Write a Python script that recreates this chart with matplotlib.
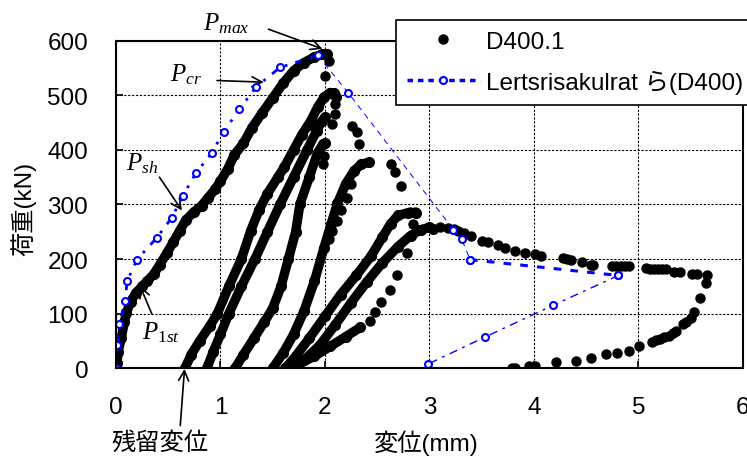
import matplotlib
matplotlib.use("Agg")   # headless
import matplotlib.pyplot as plt
from matplotlib.lines import Line2D

# ── fonts ──────────────────────────────────────────────────────────────────────
plt.rcParams["font.family"] = ["Liberation Sans", "Noto Sans CJK JP"]
plt.rcParams["mathtext.fontset"] = "custom"
plt.rcParams["mathtext.it"] = "Liberation Serif:italic"
plt.rcParams["mathtext.rm"] = "Liberation Serif"

# ── D400.1 : dense strands (loading / reloading branches) ─────────────────────
env_x = [0, 0.01, 0.02, 0.05, 0.08, 0.10, 0.14, 0.19, 0.25, 0.30, 0.36, 0.42,
         0.49, 0.55, 0.61, 0.67, 0.75, 0.82, 0.88, 0.95, 1.00, 1.07, 1.13, 1.22,
         1.30, 1.40, 1.50, 1.60, 1.70, 1.80, 1.90, 1.97, 2.02]
env_y = [0, 10, 30, 55, 85, 102, 122, 138, 150, 160, 172, 190,
         212, 232, 252, 272, 287, 298, 312, 328, 343, 365, 390, 412,
         440, 468, 495, 522, 545, 560, 570, 575, 576]

loop_a_x = [0.66, 0.72, 0.80, 0.90, 0.97, 1.08, 1.20, 1.29, 1.37, 1.45, 1.55,
            1.61, 1.70, 1.78, 1.864, 1.93, 1.99, 2.05, 2.09, 2.11]
loop_a_y = [0, 25, 50, 78, 100, 150, 200, 252, 290, 320, 350,
            368, 400, 428, 453, 478, 496, 505, 504, 497]

loop_b_x = [0.87, 0.93, 1.00, 1.08, 1.20, 1.33, 1.45, 1.57, 1.70, 1.83, 1.92,
            1.97, 2.00]
loop_b_y = [0, 30, 62, 100, 150, 200, 250, 300, 350, 400, 435,
            452, 460]

loop_c_x = [1.14, 1.22, 1.32, 1.42, 1.50, 1.58, 1.65, 1.72, 1.76, 1.85, 1.93,
            1.98, 2.00]
loop_c_y = [0, 25, 55, 85, 110, 150, 200, 250, 300, 350, 395,
            410, 412]

loop_d_x = [1.50, 1.60, 1.70, 1.80, 1.90, 1.99, 2.06, 2.12, 2.20, 2.28, 2.35, 2.42]
loop_d_y = [0, 28, 62, 105, 160, 220, 265, 302, 338, 362, 374, 377]

loop_e_x = [1.62, 1.72, 1.85, 2.00, 2.15, 2.30, 2.44, 2.55, 2.63, 2.70, 2.80, 2.87]
loop_e_y = [0, 22, 55, 95, 135, 170, 205, 240, 265, 280, 285, 284]

loop_f_x = [1.67, 1.80, 1.95, 2.10, 2.25, 2.40, 2.55, 2.70, 2.82, 2.92, 3.00, 3.03]
loop_f_y = [0, 15, 42, 80, 120, 158, 193, 223, 243, 254, 258, 256]

unload_e_x = [2.34, 2.20, 2.05, 1.90, 1.75, 1.65]
unload_e_y = [75, 58, 40, 22, 8, 0]

# ── D400.1 : sparse points (post-peak drops, softening tail) ──────────────────
drop_x = [2.04, 2.00, 1.99, 1.985, 2.10, 2.10, 2.07, 1.895, 2.26, 2.31, 2.33,
          2.25, 2.21, 2.15, 2.12, 2.07, 2.04, 2.63, 2.67, 2.73, 2.81, 2.86,
          2.84, 2.79, 2.69, 2.62, 2.54, 2.48, 2.43]
drop_y = [562, 536, 389, 374, 484, 466, 447, 441, 444, 432, 410,
          337, 311, 289, 270, 252, 237, 374, 359, 333, 286, 286,
          264, 212, 171, 144, 121, 103, 87]

tail_x = [3.10, 3.18, 3.24, 3.27, 3.33, 3.40, 3.50, 3.56, 3.66, 3.72, 3.82,
          3.92, 4.01, 4.07, 4.28, 4.32, 4.36, 4.46, 4.55, 4.57, 4.75, 4.79,
          4.83, 4.87, 4.91, 5.07, 5.11, 5.15, 5.19, 5.23, 5.27, 5.34, 5.40,
          5.51, 5.56, 5.66, 5.65, 5.59, 5.53, 5.50, 5.46, 5.43, 5.36, 5.33,
          5.29, 5.25, 5.21, 5.17, 5.13, 5.01, 4.91, 4.80, 4.69, 4.55, 4.40,
          4.21, 4.01, 3.95, 3.82, 3.79]
tail_y = [258, 257, 255, 252, 248, 243, 234, 231, 226, 220, 215,
          212, 209, 206, 202, 200, 198, 194, 190, 190, 187, 187,
          187, 187, 187, 184, 181, 181, 181, 181, 181, 176, 176,
          173, 173, 170, 157, 128, 103, 93, 85, 81, 69, 65,
          60, 57, 54, 51, 48, 40, 32, 28, 26, 18, 14,
          11, 5, 4, 0, 0]

# ── Lertsrisakulrat ら(D400) ───────────────────────────────────────────────────
ref_up_x = [0, 0.01, 0.03, 0.09, 0.105, 0.20, 0.39, 0.535, 0.64, 0.766, 0.916,
            1.03, 1.18, 1.34, 1.57, 1.93]
ref_up_y = [0, 42, 82, 123, 159, 199, 239, 276, 316, 358, 394,
            433, 474, 515, 551, 573]
ref_soft_x = [1.93, 2.225, 3.23, 3.31, 3.39]
ref_soft_y = [573, 504, 254, 236, 199]
ref_flat_x = [3.39, 4.81]
ref_flat_y = [199, 170]
ref_back_x = [4.81, 4.18, 3.53, 2.99]
ref_back_y = [170, 115, 57, 8]

x_ticks = [0, 1, 2, 3, 4, 5, 6]
y_ticks = [0, 100, 200, 300, 400, 500, 600]

# ── styling ───────────────────────────────────────────────────────────────────
_BLK = "black"
_BLUE = "#0000FF"
_FS = 17.5
_DOT = 6.5

fig = plt.figure(figsize=(7.47, 4.60), dpi=100)
ax = fig.add_axes([0.1553, 0.1972, 0.8390, 0.7122])

dense = [(env_x, env_y), (loop_a_x, loop_a_y), (loop_b_x, loop_b_y),
         (loop_c_x, loop_c_y), (loop_d_x, loop_d_y), (loop_e_x, loop_e_y),
         (loop_f_x, loop_f_y), (unload_e_x, unload_e_y)]
for xs, ys in dense:
    ax.plot(xs, ys, "-o", color=_BLK, lw=6.8, ms=_DOT + 0.5,
            solid_capstyle="round", solid_joinstyle="round", zorder=3)
ax.plot(drop_x, drop_y, "o", color=_BLK, ms=_DOT, zorder=3)
ax.plot(tail_x, tail_y, "o", color=_BLK, ms=_DOT, zorder=3)

# reference curve: different dash per branch, as in the original figure
circ = dict(marker="o", ms=5, mfc="white", mec=_BLUE, mew=1.5, color=_BLUE)
ax.plot(ref_up_x, ref_up_y, lw=2, dashes=(2.5, 3, 1, 3), zorder=4, **circ)
ax.plot(ref_soft_x, ref_soft_y, lw=0.7, dashes=(6, 5), zorder=4, **circ)
ax.plot(ref_flat_x, ref_flat_y, lw=2.2, dashes=(2.5, 3), zorder=4, **circ)
ax.plot(ref_back_x, ref_back_y, lw=1.0, dashes=(6, 4, 2, 4), zorder=4, **circ)

# ── annotations ───────────────────────────────────────────────────────────────
arrow = dict(arrowstyle="->", color=_BLK, lw=1.2, mutation_scale=18,
             shrinkA=0, shrinkB=0)
ann_fs = 18
ax.text(0.836, 621, r"$P_{max}$", fontsize=ann_fs, ha="left", va="baseline",
        clip_on=False)
ax.annotate("", xy=(1.976, 585), xytext=(1.46, 621), arrowprops=arrow,
            annotation_clip=False)
ax.text(0.519, 527, r"$P_{cr}$", fontsize=ann_fs, ha="left", va="baseline")
ax.annotate("", xy=(1.415, 524), xytext=(0.967, 527), arrowprops=arrow)
ax.text(0.096, 365, r"$P_{sh}$", fontsize=ann_fs, ha="left", va="baseline")
ax.annotate("", xy=(0.631, 289), xytext=(0.416, 350), arrowprops=arrow)
ax.text(0.246, 54, r"$P_{\mathit{1st}}$", fontsize=ann_fs, ha="left",
        va="baseline")
ax.annotate("", xy=(0.23, 151), xytext=(0.343, 99.5), arrowprops=arrow)
ax.text(0.423, -135, "残留変位", fontsize=_FS, ha="center", va="center",
        clip_on=False)
ax.annotate("", xy=(0.656, -1), xytext=(0.615, -105), arrowprops=arrow,
            annotation_clip=False)

# ── axes formatting ───────────────────────────────────────────────────────────
ax.set_xlim(0, 6)
ax.set_ylim(0, 600)
ax.set_xticks(x_ticks)
ax.set_yticks(y_ticks)
ax.tick_params(direction="in", length=5, width=1.2, labelsize=_FS, pad=20,
               colors=_BLK)
ax.grid(True, color=_BLK, lw=0.8, linestyle=(0, (2, 1.5)))
ax.set_axisbelow(True)
for spine in ax.spines.values():
    spine.set_linewidth(1.5)
    spine.set_zorder(5)

ax.set_xlabel("変位(mm)", fontsize=_FS, va="center")
ax.xaxis.set_label_coords(0.495, -0.225)
ax.set_ylabel("荷重(kN)", fontsize=_FS, va="center")
ax.yaxis.set_label_coords(-0.148, 0.49)

handles = [
    Line2D([0], [0], marker="o", color="none", mfc=_BLK, mec=_BLK, ms=_DOT),
    Line2D([0], [0], marker="o", ms=5, mfc="white", mec=_BLUE, mew=1.5,
           color=_BLUE, lw=2.5, dashes=(1.6, 1.4)),
]
leg = fig.legend(handles, ["D400.1", "Lertsrisakulrat ら(D400)"],
                 loc="upper left", bbox_to_anchor=(396 / 747, 1 - 20.7 / 460),
                 fontsize=_FS, frameon=True, fancybox=False, framealpha=1,
                 edgecolor=_BLK, borderpad=0.45, borderaxespad=0,
                 handlelength=3.0, handletextpad=0.25, labelspacing=0.7)
leg.get_frame().set_linewidth(1.2)

fig.savefig("out.png", dpi=100)
plt.close(fig)
